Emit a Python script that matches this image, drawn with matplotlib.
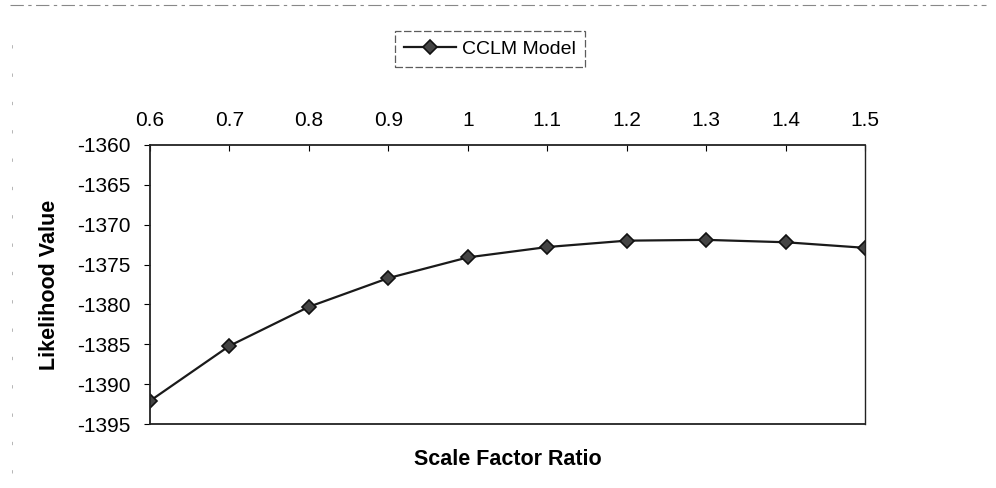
import numpy as np
import matplotlib.pyplot as plt
from matplotlib.lines import Line2D

plt.rcParams['font.family'] = ['Liberation Sans', 'DejaVu Sans']
plt.rcParams['axes.unicode_minus'] = False

scale_ratio = [0.6, 0.7, 0.8, 0.9, 1.0, 1.1, 1.2, 1.3, 1.4, 1.5]
likelihood = [-1392.1, -1385.2, -1380.3, -1376.7, -1374.1,
              -1372.8, -1372.0, -1371.9, -1372.2, -1372.9]
x_labels = ["0.6", "0.7", "0.8", "0.9", "1", "1.1", "1.2", "1.3", "1.4", "1.5"]
y_ticks = [-1360, -1365, -1370, -1375, -1380, -1385, -1390, -1395]

fig = plt.figure(figsize=(9.96, 4.88), dpi=100)
ax = fig.add_axes([150 / 996, 1 - 424 / 488, 715 / 996, 279 / 488])

ax.plot(scale_ratio, likelihood, color="#1a1a1a", linewidth=1.6,
        marker="D", markersize=7, markerfacecolor="#444444",
        markeredgecolor="#111111", markeredgewidth=1.2, label="CCLM Model")

ax.set_xlim(0.6, 1.5)
ax.set_ylim(-1395, -1360)
ax.set_xticks(scale_ratio)
ax.set_xticklabels(x_labels)
ax.set_yticks(y_ticks)
ax.xaxis.tick_top()
ax.tick_params(axis="x", direction="in", length=4, labelsize=15, pad=11)
ax.tick_params(axis="y", direction="out", length=4, labelsize=15, pad=10)
for s in ax.spines.values():
    s.set_linewidth(1.3)
    s.set_color("#222222")
ax.spines["right"].set_linewidth(1.0)

ax.set_ylabel("Likelihood Value", fontsize=15.5, fontweight="bold", labelpad=12)
ax.set_xlabel("Scale Factor Ratio", fontsize=15.5, fontweight="bold", labelpad=18)

leg = fig.legend(loc="center", bbox_to_anchor=(490 / 996, 1 - 49 / 488),
                 fontsize=14, frameon=True, fancybox=False, handlelength=2.7,
                 borderpad=0.45, handletextpad=0.3)
leg.get_frame().set_edgecolor("#333333")
leg.get_frame().set_linewidth(0.9)
leg.get_frame().set_linestyle((0, (6, 2)))

# faint scan border
fig.add_artist(Line2D([0.01, 0.99], [1 - 5 / 488, 1 - 5 / 488], color="#888888",
                      linewidth=0.8, linestyle=(0, (12, 4, 3, 4))))
fig.add_artist(Line2D([12 / 996, 12 / 996], [0.03, 0.96], color="#aaaaaa",
                      linewidth=0.6, linestyle=(0, (4, 30))))

fig.savefig("out.png", dpi=100)
